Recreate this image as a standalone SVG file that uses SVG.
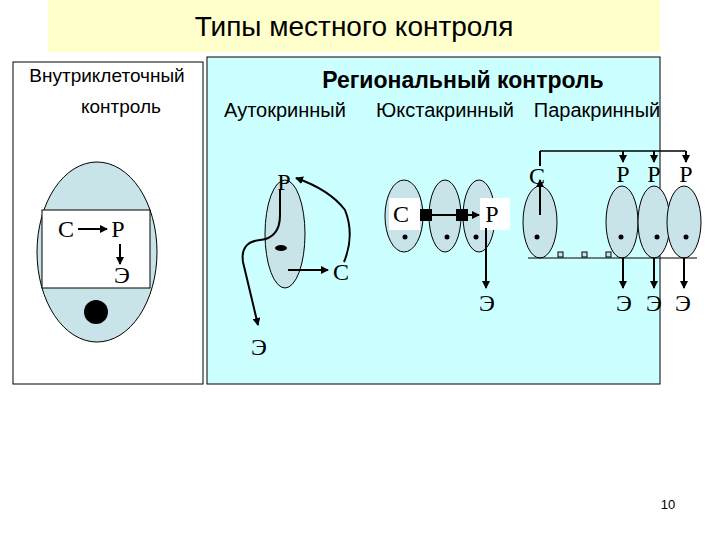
<svg xmlns="http://www.w3.org/2000/svg" width="720" height="540" viewBox="0 0 720 540">
<style>
.s{font-family:"Liberation Sans",Arial,sans-serif;fill:#000}
.t{font-family:"Liberation Serif","Times New Roman",serif;font-size:24px;fill:#000}
.cell{fill:#c8e4e8;stroke:#000;stroke-width:1}
.ln{stroke:#000;stroke-width:2;fill:none}
</style>
<defs><marker id="a" markerWidth="8" markerHeight="8" refX="7" refY="4" orient="auto" markerUnits="userSpaceOnUse"><path d="M0,0 L8,4 L0,8 z" fill="#000"/></marker></defs>
<rect width="720" height="540" fill="#fff"/>
<rect x="48" y="0" width="612" height="52" fill="#ffffcc"/>
<text class="s" x="354" y="36" font-size="28" text-anchor="middle">Типы местного контроля</text>
<g id="intra">
<rect x="13" y="62" width="190" height="322" fill="#fff" stroke="#000"/>
<text class="s" x="107" y="82" font-size="19" text-anchor="middle">Внутриклеточный</text>
<text class="s" x="121" y="113" font-size="19" text-anchor="middle">контроль</text>
<ellipse class="cell" cx="97" cy="252" rx="60" ry="90"/>
<rect x="42" y="210" width="108" height="78" fill="#fff" stroke="#000"/>
<circle cx="96" cy="312" r="12"/>
<text class="t" x="66" y="237" text-anchor="middle">С</text>
<text class="t" x="118" y="237" text-anchor="middle">Р</text>
<text class="t" x="122" y="283" text-anchor="middle">Э</text>
</g>
<g id="regional">
<rect x="207" y="57" width="453" height="327" fill="#ccffff" stroke="#000"/>
<text class="s" x="463" y="88" font-size="23" font-weight="bold" text-anchor="middle">Региональный контроль</text>
<text class="s" x="285" y="117" font-size="20" text-anchor="middle">Аутокринный</text>
<text class="s" x="445" y="117" font-size="20" text-anchor="middle">Юкстакринный</text>
<text class="s" x="597" y="117" font-size="20" text-anchor="middle">Паракринный</text>
</g>
<g id="auto">
<ellipse class="cell" cx="285" cy="234" rx="20" ry="54"/>
<ellipse cx="281" cy="248" rx="6" ry="3"/>
<text class="t" x="284" y="190" text-anchor="middle">Р</text>
<text class="t" x="341" y="280" text-anchor="middle">С</text>
<text class="t" x="259" y="355" text-anchor="middle">Э</text>
</g>
<g id="juxta">
<ellipse class="cell" cx="404" cy="216" rx="19" ry="36"/>
<ellipse class="cell" cx="445" cy="216" rx="16" ry="36"/>
<ellipse class="cell" cx="479" cy="216" rx="16" ry="36"/>
<rect x="389" y="198" width="31" height="32" fill="#fff"/>
<rect x="480" y="198" width="30" height="32" fill="#fff"/>
<circle cx="405" cy="237" r="2.5"/><circle cx="447" cy="237" r="2.5"/><circle cx="476" cy="237" r="2.5"/>
<rect x="420" y="209" width="12" height="12"/><rect x="456" y="209" width="12" height="12"/>
<text class="t" x="401" y="222" font-size="20" text-anchor="middle">С</text>
<text class="t" x="492" y="222" font-size="20" text-anchor="middle">Р</text>
<text class="t" x="487" y="311" text-anchor="middle">Э</text>
</g>
<g id="para">
<ellipse class="cell" cx="540" cy="222" rx="17" ry="36"/>
<ellipse class="cell" cx="622" cy="222" rx="16" ry="36"/>
<ellipse class="cell" cx="654" cy="222" rx="16" ry="36"/>
<ellipse class="cell" cx="684" cy="222" rx="17" ry="36"/>
<circle cx="537" cy="237" r="2.5"/><circle cx="621" cy="237" r="2.5"/><circle cx="657" cy="237" r="2.5"/><circle cx="686" cy="237" r="2.5"/>
<g fill="#c8e4e8" stroke="#000" stroke-width="1"><rect x="558" y="252" width="5" height="5"/><rect x="582" y="252" width="5" height="5"/><rect x="606" y="252" width="5" height="5"/></g>
<text class="t" x="537" y="184" text-anchor="middle">С</text>
<text class="t" x="623" y="182" text-anchor="middle">Р</text>
<text class="t" x="654" y="182" text-anchor="middle">Р</text>
<text class="t" x="686" y="182" text-anchor="middle">Р</text>
<text class="t" x="624" y="311" text-anchor="middle">Э</text>
<text class="t" x="654" y="311" text-anchor="middle">Э</text>
<text class="t" x="683" y="311" text-anchor="middle">Э</text>
</g>
<g id="connectors" class="ln">
<line x1="78" y1="229" x2="107" y2="229" marker-end="url(#a)"/>
<line x1="120" y1="244" x2="120" y2="264" marker-end="url(#a)"/>
<path d="M280,190 L280,215 Q280,238 260,240 Q240,242 243,262 L258,325" marker-end="url(#a)"/>
<path d="M288,270 L328,270" marker-end="url(#a)"/>
<path d="M344,262 Q355,235 345,210 Q330,190 296,178" marker-end="url(#a)"/>
<line x1="432" y1="215" x2="456" y2="215"/>
<line x1="468" y1="215" x2="479" y2="215" marker-end="url(#a)"/>
<line x1="486" y1="228" x2="486" y2="288" marker-end="url(#a)"/>
<line x1="540" y1="215" x2="540" y2="180" marker-end="url(#a)"/>
<line x1="540" y1="166" x2="540" y2="151"/>
<line x1="540" y1="151" x2="686" y2="151" stroke-width="1.5"/>
<line x1="623" y1="151" x2="623" y2="162" marker-end="url(#a)"/>
<line x1="654" y1="151" x2="654" y2="162" marker-end="url(#a)"/>
<line x1="686" y1="151" x2="686" y2="162" marker-end="url(#a)"/>
<line x1="528" y1="258" x2="697" y2="258" stroke-width="1.2"/>
<line x1="623" y1="258" x2="623" y2="288" marker-end="url(#a)"/>
<line x1="654" y1="258" x2="654" y2="288" marker-end="url(#a)"/>
<line x1="684" y1="258" x2="684" y2="288" marker-end="url(#a)"/>
</g>
<text class="s" x="668" y="509" font-size="13" text-anchor="middle">10</text>
</svg>
